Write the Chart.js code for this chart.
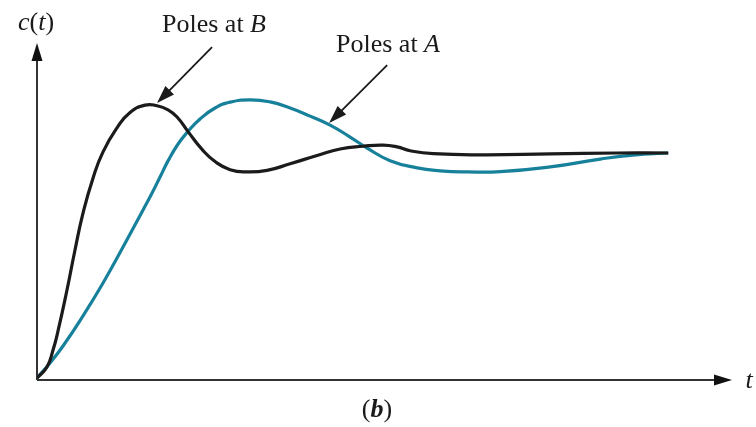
<!DOCTYPE html>
<html lang="en">
<head>
    <meta charset="UTF-8">
    <title>Step response c(t)</title>
    <script src="https://cdn.jsdelivr.net/npm/chart.js"></script>
    <style>
        html, body { margin: 0; padding: 0; background: #fff; }
        #wrap { width: 756px; height: 427px; position: relative; }
    </style>
</head>
<body>
    <div id="wrap"><canvas id="myChart"></canvas></div>

    <script>
        // time axis (end of plotted response = 100)
        const blackT = [0, 1.58, 2.54, 3.33, 4.75, 6.02, 7.29, 8.87, 10.46, 12.68, 14.74, 17.12, 19.02, 20.76, 22.19, 23.93, 26.15, 28.21, 30.59, 33.28, 36.45, 40.1, 44.37, 48.02, 51.66, 54.83, 57.05, 59.11, 62.76, 70.68, 81.3, 91.92, 100];
        const blackC = [0, 0.049, 0.124, 0.209, 0.391, 0.569, 0.733, 0.888, 1.005, 1.112, 1.18, 1.213, 1.21, 1.192, 1.16, 1.095, 1.016, 0.962, 0.926, 0.916, 0.923, 0.952, 0.989, 1.018, 1.03, 1.035, 1.027, 1.01, 0.997, 0.992, 0.996, 1.0, 1.0];

        const tealT = [0, 2.06, 4.12, 7.29, 10.46, 13.63, 16.8, 18.23, 19.49, 20.76, 22.35, 23.93, 25.83, 28.21, 30.59, 33.76, 36.93, 40.1, 43.26, 46.43, 49.6, 52.3, 55.94, 60.22, 63.87, 68.15, 73.38, 81.3, 89.22, 94.45, 100];
        const tealC = [0, 0.067, 0.142, 0.276, 0.422, 0.582, 0.747, 0.822, 0.893, 0.965, 1.04, 1.096, 1.151, 1.2, 1.226, 1.236, 1.227, 1.2, 1.164, 1.124, 1.071, 1.022, 0.966, 0.934, 0.921, 0.916, 0.917, 0.938, 0.973, 0.991, 1.0];

        const seriesNames = ['Poles at B', 'Poles at A'];

        // annotation arrows, in data coordinates [t, c]
        const arrowB = { from: [27.73, 1.471], to: [19.02, 1.222] };
        const arrowA = { from: [55.47, 1.391], to: [46.28, 1.133] };

        const SERIF = '"Liberation Serif", "DejaVu Serif", serif';
        const AXIS = '#333';

        function toPoints(ts, cs) {
            return ts.map((t, i) => ({ x: t, y: cs[i] }));
        }

        // draw a row of text pieces with different fonts
        function drawParts(ctx, parts, x, y, align) {
            let total = 0;
            parts.forEach(p => { ctx.font = p.font; total += ctx.measureText(p.text).width; });
            let cx = align === 'center' ? x - total / 2 : x;
            ctx.textAlign = 'left';
            ctx.textBaseline = 'alphabetic';
            parts.forEach(p => {
                ctx.font = p.font;
                ctx.fillText(p.text, cx, y);
                cx += ctx.measureText(p.text).width;
            });
        }

        function arrowHead(ctx, x1, y1, x2, y2, len, half) {
            const a = Math.atan2(y2 - y1, x2 - x1);
            ctx.beginPath();
            ctx.moveTo(x2, y2);
            ctx.lineTo(x2 - len * Math.cos(a) + half * Math.sin(a), y2 - len * Math.sin(a) - half * Math.cos(a));
            ctx.lineTo(x2 - len * Math.cos(a) - half * Math.sin(a), y2 - len * Math.sin(a) + half * Math.cos(a));
            ctx.closePath();
            ctx.fill();
        }

        const axesPlugin = {
            id: 'axesArrows',
            beforeDatasetsDraw(chart) {
                const ctx = chart.ctx;
                const { left, right, top, bottom } = chart.chartArea;
                ctx.save();
                ctx.strokeStyle = AXIS;
                ctx.fillStyle = '#111';
                ctx.lineWidth = 2;
                ctx.beginPath();
                ctx.moveTo(left, bottom);
                ctx.lineTo(left, top + 10);
                ctx.moveTo(left, bottom);
                ctx.lineTo(right - 10, bottom);
                ctx.stroke();
                arrowHead(ctx, left, bottom, left, top, 18, 5.5);
                arrowHead(ctx, left, bottom, right, bottom, 18, 5.5);
                ctx.restore();
            },
            afterDraw(chart) {
                const ctx = chart.ctx;
                const xs = chart.scales.x, ys = chart.scales.y;
                ctx.save();
                ctx.fillStyle = '#1a1a1a';
                ctx.strokeStyle = '#1a1a1a';
                ctx.lineWidth = 1.8;
                [arrowB, arrowA].forEach(a => {
                    const x1 = xs.getPixelForValue(a.from[0]), y1 = ys.getPixelForValue(a.from[1]);
                    const x2 = xs.getPixelForValue(a.to[0]), y2 = ys.getPixelForValue(a.to[1]);
                    ctx.beginPath();
                    ctx.moveTo(x1, y1);
                    ctx.lineTo(x2 + (x1 - x2) * 0.15, y2 + (y1 - y2) * 0.15);
                    ctx.stroke();
                    arrowHead(ctx, x1, y1, x2, y2, 18, 6);
                });

                const n = '26px ' + SERIF, it = 'italic 26px ' + SERIF, bi = 'italic bold 26px ' + SERIF;
                drawParts(ctx, [{ text: 'c', font: it }, { text: '(', font: n }, { text: 't', font: it }, { text: ')', font: n }], 36, 30, 'center');
                drawParts(ctx, [{ text: 'Poles at ', font: n }, { text: 'B', font: it }], 162, 32, 'left');
                drawParts(ctx, [{ text: 'Poles at ', font: n }, { text: 'A', font: it }], 336, 52, 'left');
                drawParts(ctx, [{ text: 't', font: it }], 749, 388, 'center');
                drawParts(ctx, [{ text: '(', font: n }, { text: 'b', font: bi }, { text: ')', font: n }], 377, 417, 'center');
                ctx.restore();
            }
        };

        const ctx = document.getElementById('myChart').getContext('2d');
        const myChart = new Chart(ctx, {
            type: 'line',
            data: {
                datasets: [
                    {
                        label: seriesNames[0],
                        data: toPoints(blackT, blackC),
                        borderColor: '#1b1b1b',
                        borderWidth: 3.2,
                        pointRadius: 0,
                        tension: 0.5
                    },
                    {
                        label: seriesNames[1],
                        data: toPoints(tealT, tealC),
                        borderColor: '#17819c',
                        borderWidth: 3.2,
                        pointRadius: 0,
                        tension: 0.5
                    }
                ]
            },
            options: {
                responsive: true,
                maintainAspectRatio: false,
                animation: false,
                layout: { padding: { left: 37, right: 24, top: 43, bottom: 47 } },
                plugins: { legend: { display: false }, tooltip: { enabled: false } },
                scales: {
                    x: { type: 'linear', min: 0, max: 110.1, display: false },
                    y: { min: -0.009, max: 1.489, display: false }
                }
            },
            plugins: [axesPlugin]
        });
    </script>
</body>
</html>
